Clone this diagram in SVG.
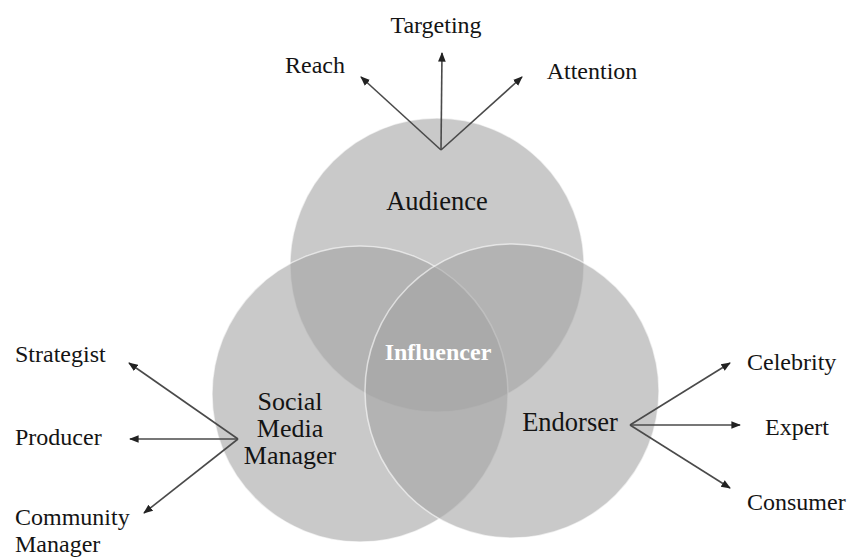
<svg xmlns="http://www.w3.org/2000/svg" width="849" height="557" viewBox="0 0 849 557">
<defs>
<style>
.c{fill:#a4a4a4;fill-opacity:0.59;stroke:#ffffff;stroke-opacity:0.6;stroke-width:1.5}
.t{font-family:"Liberation Serif","Times New Roman",serif;fill:#141414}
.lbl{font-size:24px}
.nm{font-size:26.5px}
.sm{font-size:26px}
.inf{font-family:"Liberation Serif","Times New Roman",serif;font-weight:bold;font-size:24px;fill:#ffffff}
.a{stroke:#4a4a4a;stroke-width:1.6;fill:none;marker-end:url(#ah)}
</style>
<marker id="ah" viewBox="0 0 10 10" refX="9" refY="5" markerWidth="6" markerHeight="6" orient="auto" markerUnits="strokeWidth">
<path d="M0,1 L10,5 L0,9 z" fill="#222222"/>
</marker>
</defs>
<rect width="849" height="557" fill="#ffffff"/>
<g id="audience">
<circle class="c" cx="437" cy="265" r="147"/>
<text class="t nm" x="437" y="210" text-anchor="middle">Audience</text>
</g>
<g id="social-media-manager">
<circle class="c" cx="360" cy="394" r="148"/>
<text class="t sm" text-anchor="middle"><tspan x="290" y="410">Social</tspan><tspan x="290" y="437">Media</tspan><tspan x="290" y="464">Manager</tspan></text>
</g>
<g id="endorser">
<circle class="c" cx="512" cy="391" r="147"/>
<text class="t nm" x="570" y="431" text-anchor="middle">Endorser</text>
</g>
<g id="influencer">
<text class="inf" x="438" y="360" text-anchor="middle">Influencer</text>
</g>
<g id="connectors">
<line class="a" x1="441" y1="150" x2="361" y2="77"/>
<line class="a" x1="441" y1="150" x2="442" y2="53"/>
<line class="a" x1="441" y1="150" x2="522" y2="77"/>
<line class="a" x1="238" y1="439" x2="129" y2="363"/>
<line class="a" x1="238" y1="439" x2="130" y2="439"/>
<line class="a" x1="238" y1="439" x2="144" y2="513"/>
<line class="a" x1="630" y1="425" x2="730" y2="363"/>
<line class="a" x1="630" y1="425" x2="740" y2="425"/>
<line class="a" x1="630" y1="425" x2="730" y2="488"/>
</g>
<g id="reach"><text class="t lbl" x="315" y="73" text-anchor="middle">Reach</text></g>
<g id="targeting"><text class="t lbl" x="436" y="33" text-anchor="middle">Targeting</text></g>
<g id="attention"><text class="t lbl" x="592" y="79" text-anchor="middle">Attention</text></g>
<g id="strategist"><text class="t lbl" x="15" y="362">Strategist</text></g>
<g id="producer"><text class="t lbl" x="15" y="445">Producer</text></g>
<g id="community-manager"><text class="t lbl"><tspan x="15" y="525">Community</tspan><tspan x="15" y="552">Manager</tspan></text></g>
<g id="celebrity"><text class="t lbl" x="747" y="370">Celebrity</text></g>
<g id="expert"><text class="t lbl" x="765" y="435">Expert</text></g>
<g id="consumer"><text class="t lbl" x="747" y="510">Consumer</text></g>
</svg>
